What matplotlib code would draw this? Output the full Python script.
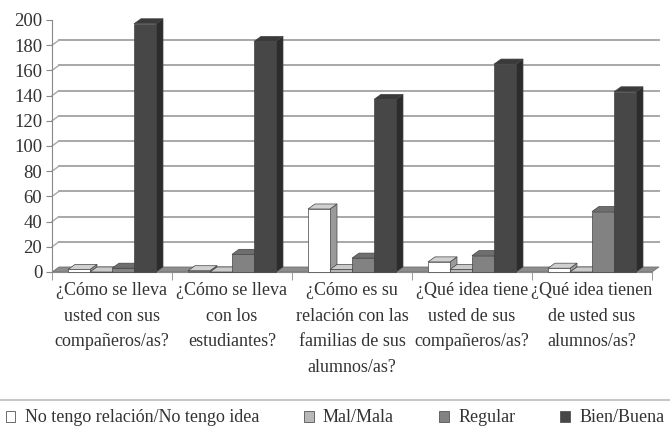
import matplotlib
matplotlib.use("Agg")
import matplotlib.pyplot as plt
from matplotlib.patches import Polygon, Patch
from matplotlib.lines import Line2D
import numpy as np

categories = [
    "¿Cómo se lleva\nusted con sus\ncompañeros/as?",
    "¿Cómo se lleva\ncon los\nestudiantes?",
    "¿Cómo es su\nrelación con las\nfamilias de sus\nalumnos/as?",
    "¿Qué idea tiene\nusted de sus\ncompañeros/as?",
    "¿Qué idea tienen\nde usted sus\nalumnos/as?",
]
series_names = ["No tengo relación/No tengo idea", "Mal/Mala", "Regular", "Bien/Buena"]
no_tengo = [2, 1, 50, 8, 3]
mal = [0, 0, 2, 2, 0]
regular = [3, 14, 11, 13, 48]
bien = [197, 183, 137, 165, 143]
yticks = [0, 20, 40, 60, 80, 100, 120, 140, 160, 180, 200]

# front, top, side shades for each series
front_c = ["#ffffff", "#b8b8b8", "#828282", "#474747"]
top_c = ["#d0d0d0", "#cacaca", "#6e6e6e", "#3a3a3a"]
side_c = ["#9a9a9a", "#8e8e8e", "#5e5e5e", "#2c2c2c"]

plt.rcParams['font.family'] = ['Liberation Serif', 'DejaVu Serif']
txt_color = "#333333"

fig = plt.figure(figsize=(6.7, 4.32), dpi=100)
ax = fig.add_axes([52 / 670, 160 / 432, 600 / 670, 252 / 432])

n_cat = len(categories)
x = np.arange(n_cat)
w = 22 / 120
dx = 7 / 120
dy = 4.0
values = [no_tengo, mal, regular, bien]

ax.set_xlim(-0.5, n_cat - 0.5)
ax.set_ylim(0, 200)

# back wall gridlines
for t in yticks[1:-1]:
    ax.plot([-0.5 + dx, n_cat - 0.5 + dx], [t + dy, t + dy], color="#a8a8a8",
            lw=1.4, zorder=1, clip_on=False)
    ax.plot([-0.5, -0.5 + dx], [t, t + dy], color="#a8a8a8", lw=1.0, zorder=1, clip_on=False)

# floor
floor = Polygon([(-0.5, 0), (n_cat - 0.5, 0), (n_cat - 0.5 + dx, dy), (-0.5 + dx, dy)],
                closed=True, facecolor="#8c8c8c", edgecolor="#6a6a6a", lw=0.5,
                zorder=2, clip_on=False)
ax.add_patch(floor)

z = 3
for i in range(n_cat):
    for k in range(4):
        v = values[k][i]
        x0 = x[i] - 0.5 + 16 / 120 + w * k
        x1 = x0 + w
        side = Polygon([(x1, 0), (x1, v), (x1 + dx, v + dy), (x1 + dx, dy)], closed=True,
                       facecolor=side_c[k], edgecolor="#444444", lw=0.5, zorder=z, clip_on=False)
        top = Polygon([(x0, v), (x1, v), (x1 + dx, v + dy), (x0 + dx, v + dy)], closed=True,
                      facecolor=top_c[k], edgecolor="#444444", lw=0.5, zorder=z, clip_on=False)
        ax.add_patch(side)
        ax.add_patch(top)
        ax.bar(x0, v, width=w, align="edge", color=front_c[k], edgecolor="#444444",
               lw=0.5, zorder=z + 0.5, clip_on=False)
        z += 1

for s in ["top", "right"]:
    ax.spines[s].set_visible(False)
ax.spines["left"].set_color("#888888")
ax.spines["bottom"].set_color("#888888")
ax.set_yticks(yticks)
ax.tick_params(axis="y", labelsize=13.5, length=4, color="#888888", pad=3,
               labelcolor=txt_color)
ax.set_xticks(x)
ax.set_xticklabels(categories, fontsize=13, linespacing=1.68, color=txt_color)
ax.set_xticks(np.arange(n_cat + 1) - 0.5, minor=True)
ax.tick_params(axis="x", which="major", length=0, pad=7)
ax.tick_params(axis="x", which="minor", length=6, color="#888888")

fig.add_artist(Line2D([0, 1], [32 / 432, 32 / 432], color="#bbbbbb", lw=1.2))
handles = [Patch(facecolor=front_c[k], edgecolor="#555555", lw=0.6) for k in range(4)]
leg = fig.legend(handles, series_names, loc="center", bbox_to_anchor=(0.5, 14 / 432), ncol=4,
                 frameon=False, fontsize=13, handlelength=0.55, handleheight=0.55,
                 handletextpad=0.5, columnspacing=2.5, borderaxespad=0)
for t in leg.get_texts():
    t.set_color(txt_color)

fig.savefig("out.png", dpi=100)
